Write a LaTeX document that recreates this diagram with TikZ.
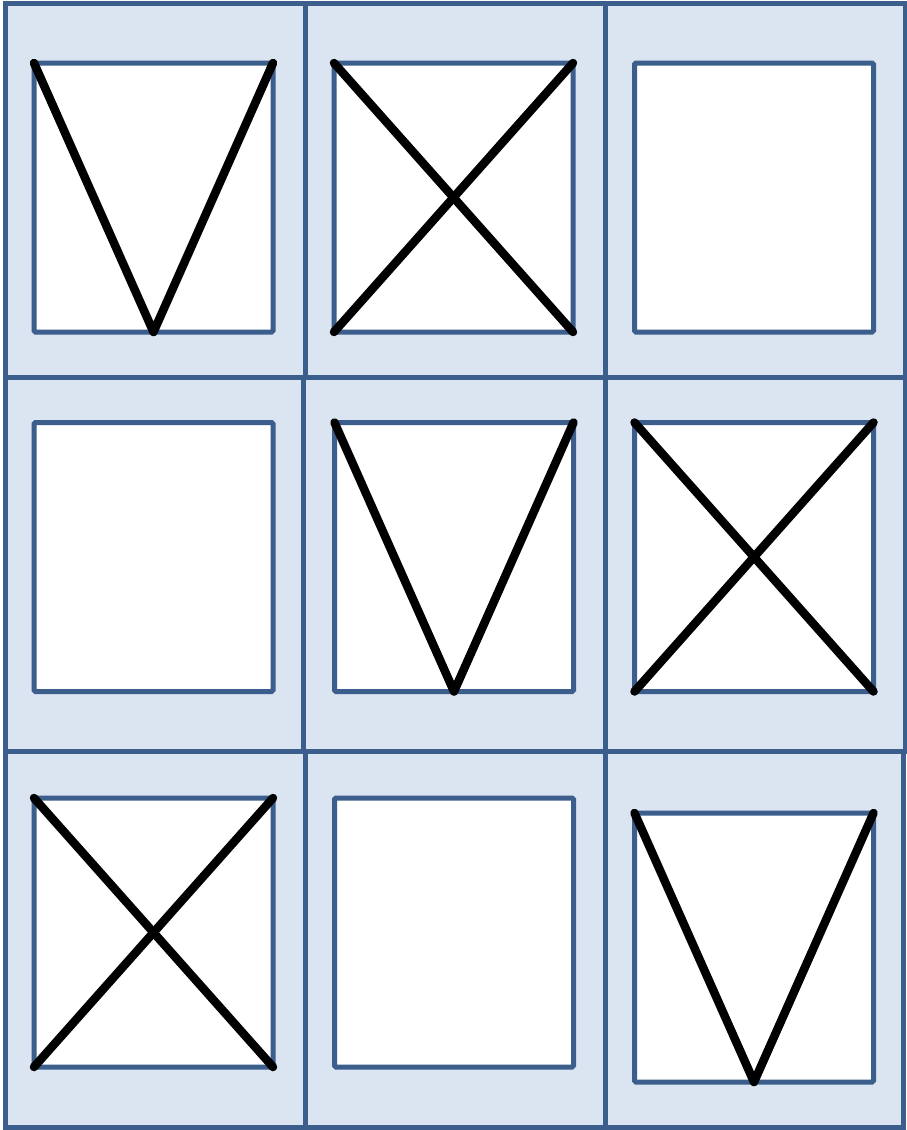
\documentclass[tikz,border=0pt]{standalone}
\usepackage{xcolor}
\usepackage{tikz}
\usetikzlibrary{positioning}

\definecolor{cellfill}{RGB}{219,228,241}
\definecolor{cellline}{RGB}{59,94,140}

\begin{document}
\begin{tikzpicture}[
    x=1pt, y=-1pt,
    cell/.style={
        draw=cellline,
        fill=cellfill,
        line width=5pt,
        inner sep=0pt,
        outer sep=0pt
    },
    panel/.style={
        draw=cellline,
        fill=white,
        line width=5pt,
        rounded corners=1.5pt,
        minimum width=239pt,
        minimum height=269pt,
        inner sep=0pt,
        outer sep=0pt
    },
    stroke/.style={
        line width=8.5pt,
        line cap=round,
        line join=round,
        black
    }
]

\useasboundingbox (0,0) rectangle (907,1130);

% outer cells
\node[cell, minimum width=300pt, minimum height=374pt] (c11) at (155,190) {};
\node[cell, minimum width=300pt, minimum height=374pt] (c12) at (455,190) {};
\node[cell, minimum width=300pt, minimum height=374pt] (c13) at (755,190) {};

\node[cell, minimum width=298pt, minimum height=374pt] (c21) at (154,564) {};
\node[cell, minimum width=302pt, minimum height=374pt] (c22) at (454,564) {};
\node[cell, minimum width=300pt, minimum height=374pt] (c23) at (755,564) {};

\node[cell, minimum width=300pt, minimum height=376pt] (c31) at (155,939) {};
\node[cell, minimum width=300pt, minimum height=376pt] (c32) at (455,939) {};
\node[cell, minimum width=298pt, minimum height=376pt] (c33) at (754,939) {};

% inner panels
\node[panel] (p11) at (153.5,197.5) {};
\node[panel] (p12) at (453.5,197.5) {};
\node[panel] (p13) at (754,197.5) {};

\node[panel] (p21) at (153.5,557) {};
\node[panel] (p22) at (454,557) {};
\node[panel] (p23) at (754,557) {};

\node[panel] (p31) at (153.5,932.5) {};
\node[panel] (p32) at (454,932.5) {};
\node[panel] (p33) at (754,947.5) {};

% row 1
\draw[stroke] (p11.north west) -- (p11.south) -- (p11.north east);
\draw[stroke] (p12.north west) -- (p12.south east);
\draw[stroke] (p12.south west) -- (p12.north east);

% row 2
\draw[stroke] (p22.north west) -- (p22.south) -- (p22.north east);
\draw[stroke] (p23.north west) -- (p23.south east);
\draw[stroke] (p23.south west) -- (p23.north east);

% row 3
\draw[stroke] (p31.north west) -- (p31.south east);
\draw[stroke] (p31.south west) -- (p31.north east);
\draw[stroke] (p33.north west) -- (p33.south) -- (p33.north east);

\end{tikzpicture}
\end{document}
